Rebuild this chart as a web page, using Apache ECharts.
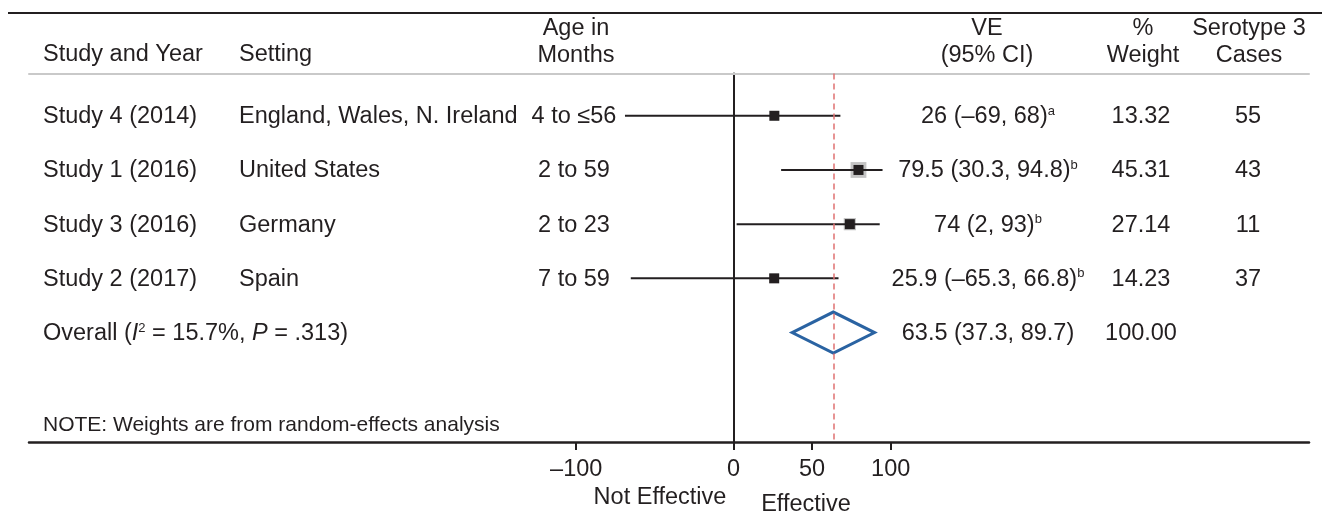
<!DOCTYPE html>
<html><head><meta charset="utf-8">
<script src="https://cdn.jsdelivr.net/npm/echarts@6/dist/echarts.min.js"></script>
<style>html,body{margin:0;padding:0;background:#fff}#c{width:1322px;height:517px}</style>
</head><body><div id="c"></div>
<script>
// ---- data ----
const studies = ['Study 4 (2014)', 'Study 1 (2016)', 'Study 3 (2016)', 'Study 2 (2017)'];
const settings = ['England, Wales, N. Ireland', 'United States', 'Germany', 'Spain'];
const ages = ['4 to \u226456', '2 to 59', '2 to 23', '7 to 59'];
const veEst = [26, 79.5, 74, 25.9];
const veLow = [-69, 30.3, 2, -65.3];
const veHigh = [68, 94.8, 93, 66.8];
const footnotes = ['a', 'b', 'b', 'b'];
const weights = [13.32, 45.31, 27.14, 14.23];
const cases = [55, 43, 11, 37];
const overallEst = 63.5;
const overallLow = 37.3;
const overallHigh = 89.7;
const overallWeight = 100;
const i2 = '15.7%';
const pValue = '.313';
const tickValues = [-100, 0, 50, 100];

// ---- style ----
const FF = '"Liberation Sans", Arial, Helvetica, sans-serif';
const INK = '#231f20';
const FS = 23.5;
const DY = 1;

const fmt = v => (v < 0 ? '\u2013' : '') + Math.abs(v);
const veText = i => fmt(veEst[i]) + ' (' + fmt(veLow[i]) + ', ' + fmt(veHigh[i]) + ')';

const richStyles = {
  m: { fontSize: FS, fontFamily: FF, fill: INK, color: INK },
  i: { fontSize: FS, fontFamily: FF, fontStyle: 'italic', fill: INK, color: INK },
  s: { fontSize: 13, fontFamily: FF, fill: INK, color: INK, verticalAlign: 'top', lineHeight: 13 }
};

function txt(x, y, text, align, extra) {
  return {
    type: 'text', x: x, y: y, silent: true,
    style: Object.assign({
      text: text, fill: INK, fontSize: FS, fontFamily: FF,
      align: align, textAlign: align, verticalAlign: 'middle', textVerticalAlign: 'middle'
    }, extra || {})
  };
}

const tableRows = studies.map((s, i) => [0, i]).concat([[0, studies.length]]);

function tableItem(params, api) {
  const i = api.value(1);
  const y = api.coord([0, i])[1] + DY;
  const kids = [];
  if (i < studies.length) {
    kids.push(txt(43, y, studies[i], 'left'));
    kids.push(txt(239, y, settings[i], 'left'));
    kids.push(txt(574, y, ages[i], 'center'));
    kids.push(txt(988, y, '{m|' + veText(i) + '}{s|' + footnotes[i] + '}', 'center', { rich: richStyles }));
    kids.push(txt(1141, y, weights[i].toFixed(2), 'center'));
    kids.push(txt(1248, y, String(cases[i]), 'center'));
  } else {
    kids.push(txt(43, y, '{m|Overall (}{i|I}{s|2}{m| = ' + i2 + ', }{i|P}{m| = ' + pValue + ')}', 'left', { rich: richStyles }));
    kids.push(txt(988, y, fmt(overallEst) + ' (' + fmt(overallLow) + ', ' + fmt(overallHigh) + ')', 'center'));
    kids.push(txt(1141, y, overallWeight.toFixed(2), 'center'));
  }
  return { type: 'group', children: kids };
}

const ciData = veEst.map((v, i) => [veLow[i], veHigh[i], v, weights[i], i]);

function ciItem(params, api) {
  const lo = api.value(0), hi = api.value(1), est = api.value(2), w = api.value(3), row = api.value(4);
  const p1 = api.coord([lo, row]);
  const p2 = api.coord([hi, row]);
  const c = api.coord([est, row]);
  const g = 2.35 * Math.sqrt(w);
  const b = 10;
  return {
    type: 'group', children: [
      { type: 'rect', shape: { x: c[0] - g / 2, y: c[1] - g / 2, width: g, height: g }, style: { fill: '#c4c4c4' } },
      { type: 'line', shape: { x1: p1[0], y1: p1[1], x2: p2[0], y2: p2[1] }, style: { stroke: INK, lineWidth: 2 } },
      { type: 'rect', shape: { x: c[0] - b / 2, y: c[1] - b / 2, width: b, height: b }, style: { fill: INK } }
    ]
  };
}

function diamondItem(params, api) {
  const lo = api.value(0), hi = api.value(1), est = api.value(2), row = api.value(3);
  const l = api.coord([lo, row]), r = api.coord([hi, row]), c = api.coord([est, row]);
  const h = 20.5;
  return {
    type: 'polygon',
    shape: { points: [[l[0], l[1]], [c[0], c[1] - h], [r[0], r[1]], [c[0], c[1] + h]] },
    style: { fill: 'none', stroke: '#2a63a2', lineWidth: 3, lineJoin: 'miter' }
  };
}

const chart = echarts.init(document.getElementById('c'), null, { renderer: 'canvas' });
chart.setOption({
  animation: false,
  backgroundColor: '#fff',
  grid: { left: 29, right: 13, top: 73.5, bottom: 75 },
  xAxis: [{
    type: 'value', min: -448, max: 366, position: 'bottom',
    axisLine: { show: true, onZero: false, lineStyle: { color: INK, width: 2.5 } },
    axisTick: { show: true, customValues: tickValues, length: 8, inside: false, lineStyle: { color: INK, width: 2 } },
    axisLabel: { show: true, customValues: tickValues, margin: 16, color: INK, fontSize: FS, fontFamily: FF,
      formatter: v => fmt(v) },
    splitLine: { show: false }
  }, {
    type: 'value', min: -448, max: 366, position: 'top',
    axisLine: { show: true, onZero: false, lineStyle: { color: '#c9c9c9', width: 2 } },
    axisTick: { show: false }, axisLabel: { show: false }, splitLine: { show: false }
  }],
  yAxis: {
    type: 'value', inverse: true, min: -0.78, max: 6.02,
    axisLine: { show: true, onZero: true, onZeroAxisIndex: 0, lineStyle: { color: INK, width: 2 } },
    axisTick: { show: false }, axisLabel: { show: false }, splitLine: { show: false }
  },
  graphic: [
    { type: 'line', silent: true, shape: { x1: 8, y1: 13, x2: 1322, y2: 13 }, style: { stroke: INK, lineWidth: 2 } },
    txt(43, 55, 'Study and Year', 'left'),
    txt(239, 55, 'Setting', 'left'),
    txt(576, 29, 'Age in', 'center'),
    txt(576, 56, 'Months', 'center'),
    txt(987, 29, 'VE', 'center'),
    txt(987, 56, '(95% CI)', 'center'),
    txt(1143, 29, '%', 'center'),
    txt(1143, 56, 'Weight', 'center'),
    txt(1249, 29, 'Serotype 3', 'center'),
    txt(1249, 56, 'Cases', 'center'),
    txt(43, 425, 'NOTE: Weights are from random-effects analysis', 'left', { fontSize: 21 }),
    txt(660, 498, 'Not Effective', 'center'),
    txt(806, 505, 'Effective', 'center')
  ],
  series: [
    {
      type: 'custom', name: 'table', silent: true, clip: false,
      encode: { x: 0, y: 1 }, data: tableRows, renderItem: tableItem, z: 5
    },
    {
      type: 'custom', name: 'studies', silent: true,
      encode: { x: [0, 1, 2], y: 4 }, data: ciData, renderItem: ciItem, z: 4
    },
    {
      type: 'custom', name: 'overall', silent: true,
      encode: { x: [0, 1, 2], y: 3 }, data: [[overallLow, overallHigh, overallEst, studies.length]],
      renderItem: diamondItem, z: 4,
      markLine: {
        silent: true, symbol: 'none', label: { show: false },
        lineStyle: { color: '#e07272', width: 1.5, type: [6, 4] },
        data: [{ xAxis: overallEst }]
      }
    }
  ]
});
</script>
</body></html>
